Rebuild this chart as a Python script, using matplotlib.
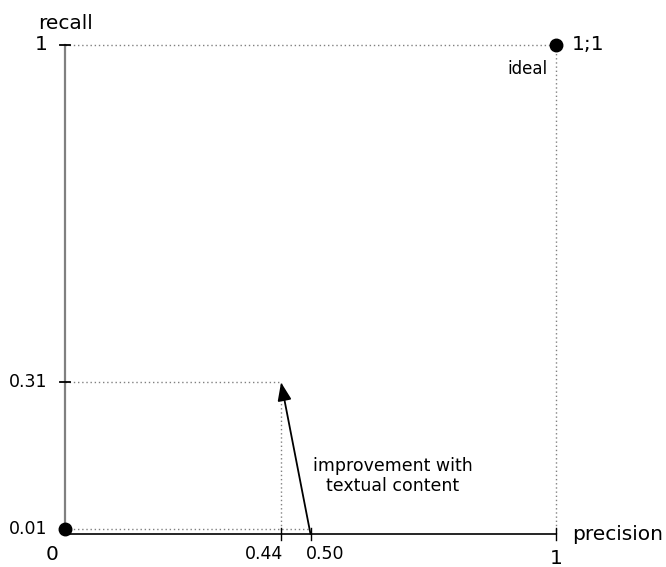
import matplotlib
matplotlib.use("Agg")
import matplotlib.pyplot as plt

# precision / recall values of the two systems
base_p, base_r = 0.50, 0.01
text_p, text_r = 0.44, 0.31
ideal_p, ideal_r = 1.0, 1.0
x_ticks = [0.44, 0.50, 1.0]
x_labels = ["0.44", "0.50", "1"]
y_ticks = [0.31, 1.0]
y_labels = ["0.31", "1"]

fig = plt.figure(figsize=(6.66, 5.67), dpi=100)
ax = fig.add_axes([65 / 666, 33 / 567, 491 / 666, 489 / 567])
ax.set_xlim(0, 1)
ax.set_ylim(0, 1)
ax.axis("off")

# axes
ax.plot([0, 0], [0, 1], color="#808080", lw=1.6, clip_on=False, zorder=2)
ax.plot([0, 1], [0, 0], color="black", lw=1.2, clip_on=False, zorder=2)
for t in y_ticks:
    ax.plot([-0.01, 0.01], [t, t], color="black", lw=1.3, clip_on=False)
for t in x_ticks:
    ax.plot([t, t], [-0.012, 0.012], color="black", lw=1.0, clip_on=False)

# dotted guides
dot = dict(color="#808080", lw=1.0, ls=(0, (1, 2)), clip_on=False, zorder=1)
ax.plot([0, ideal_p], [ideal_r, ideal_r], **dot)
ax.plot([ideal_p, ideal_p], [0, ideal_r], **dot)
ax.plot([0, text_p], [text_r, text_r], **dot)
ax.plot([text_p, text_p], [0, text_r], **dot)
ax.plot([0, base_p], [base_r, base_r], **dot)

# points
ax.plot([0, ideal_p], [base_r, ideal_r], "o", color="black", ms=9, clip_on=False, zorder=3)

# improvement arrow
ax.annotate("", xy=(text_p, text_r), xytext=(base_p, 0),
            arrowprops=dict(arrowstyle="-|>,head_length=1.1,head_width=0.42",
                            color="black", lw=1.3, shrinkA=0, shrinkB=0))

# labels
big, small = 14.5, 12.5
ax.text(-0.055, 1.025, "recall", fontsize=big, ha="left", va="bottom")
ax.text(-0.035, 1.0, y_labels[1], fontsize=big, ha="right", va="center")
ax.text(-0.035, text_r, y_labels[0], fontsize=small, ha="right", va="center")
ax.text(-0.035, base_r, "0.01", fontsize=small, ha="right", va="center")
ax.text(-0.027, -0.022, "0", fontsize=big, ha="center", va="top")
ax.text(text_p + 0.004, -0.022, x_labels[0], fontsize=small, ha="right", va="top")
ax.text(base_p - 0.01, -0.022, x_labels[1], fontsize=small, ha="left", va="top")
ax.text(1.0, -0.03, x_labels[2], fontsize=big, ha="center", va="top")
ax.text(1.033, 0.0, "precision", fontsize=big, ha="left", va="center")
ax.text(1.033, 1.0, "1;1", fontsize=big, ha="left", va="center")
ax.text(0.982, 0.95, "ideal", fontsize=12, ha="right", va="center")
ax.text(0.668, 0.119, "improvement with\ntextual content", fontsize=small,
        ha="center", va="center", linespacing=1.15)

fig.savefig("out.png", dpi=100)
